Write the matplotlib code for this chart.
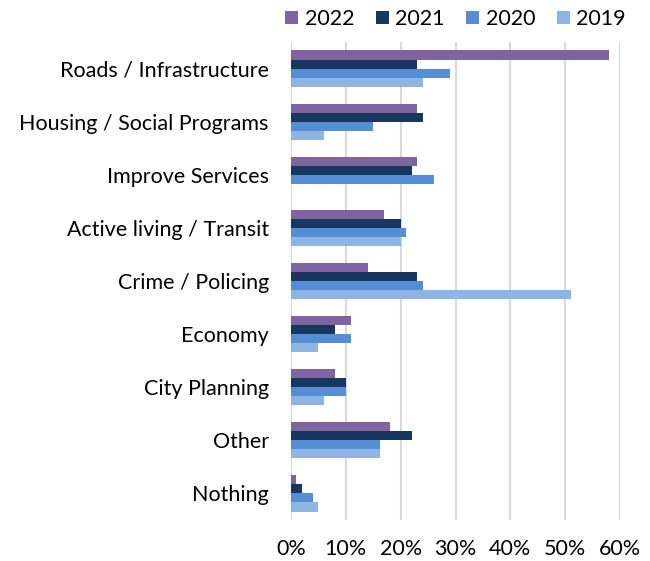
import numpy as np
import matplotlib.pyplot as plt
from matplotlib.ticker import PercentFormatter

categories = ['Roads / Infrastructure', 'Housing / Social Programs', 'Improve Services',
              'Active living / Transit', 'Crime / Policing', 'Economy', 'City Planning',
              'Other', 'Nothing']
years = ['2022', '2021', '2020', '2019']
v2022 = [58, 23, 23, 17, 14, 11, 8, 18, 1]
v2021 = [23, 24, 22, 20, 23, 8, 10, 22, 2]
v2020 = [29, 15, 26, 21, 24, 11, 10, 16.2, 4]
v2019 = [24, 6, 0, 20, 51, 5, 6, 16.2, 5]

colors = ['#8064A2', '#17375E', '#558ED5', '#8EB4E3']

plt.rcParams['font.family'] = ['Lato', 'DejaVu Sans']

fig = plt.figure(figsize=(6.5, 5.61), dpi=100)
ax = fig.add_axes([291/650, 1-520/561, 329/650, 478/561])

y = np.arange(len(categories))
h = 0.17
series = [v2022, v2021, v2020, v2019]
for i, (vals, lab, c) in enumerate(zip(series, years, colors)):
    ax.barh(y + (i - 1.5) * h, vals, height=h, color=c, label=lab, zorder=3)

ax.set_xlim(0, 60)
ax.set_ylim(8.5, -0.5)
ax.set_xticks(np.arange(0, 61, 10))
ax.xaxis.set_major_formatter(PercentFormatter(decimals=0))
ax.set_yticks(y)
ax.set_yticklabels(categories)
ax.tick_params(axis='both', length=0, labelsize=15.5, colors='#000000')
ax.tick_params(axis='x', pad=14)
ax.tick_params(axis='y', pad=16)
ax.grid(axis='x', color='#D9D9D9', linewidth=1.5, zorder=0)
for s in ax.spines.values():
    s.set_visible(False)

ax.legend(loc='lower center', bbox_to_anchor=(0.5, 1.0), ncol=4, frameon=False,
          fontsize=15.5, handlelength=0.6, handleheight=0.6, handletextpad=0.3,
          columnspacing=1.0, borderaxespad=0.2)

fig.savefig('out.png', dpi=100)
